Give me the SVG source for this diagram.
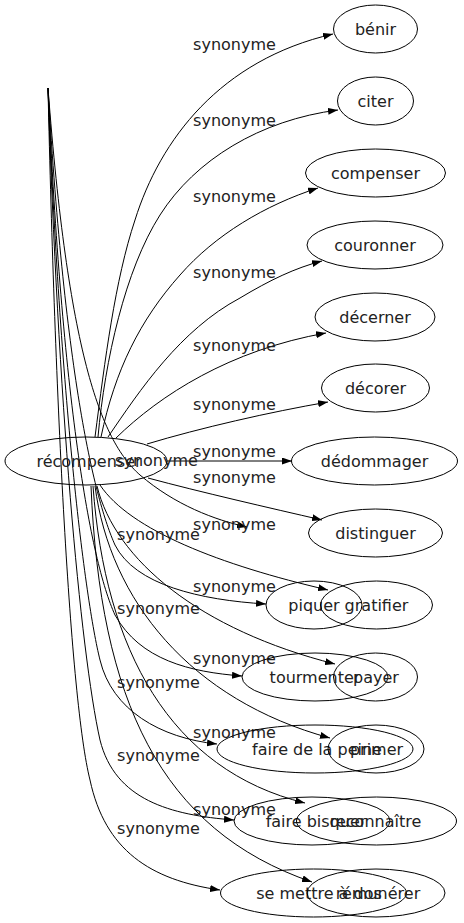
<svg xmlns="http://www.w3.org/2000/svg" width="464" height="923" viewBox="0 0 464 923">
<defs>
<marker id="ah" viewBox="0 0 10 7" refX="10" refY="3.5" markerWidth="10" markerHeight="7" markerUnits="userSpaceOnUse" orient="auto"><path d="M0,0 L10,3.5 L0,7 z" fill="#000"/></marker>
</defs>
<style>
.n ellipse{fill:none;stroke:#000;stroke-width:1}
text{font-family:"DejaVu Sans",Verdana,sans-serif;font-size:16px;fill:#222}
.n text{text-anchor:middle}
.e path{fill:none;stroke:#000;stroke-width:1;marker-end:url(#ah)}
.l text{text-anchor:middle}
</style>
<rect width="464" height="923" fill="#fff"/>
<g id="edges" class="e">
<path d="M95,437 C105,360 115,280 135,220 C160,140 220,60 333,34"/>
<path d="M98,437 C105,360 125,270 160,215 C195,160 260,120 338,110"/>
<path d="M101,437 C115,370 140,320 180,275 C215,235 265,205 318,188"/>
<path d="M108,437 C140,390 180,330 240,298 C270,280 295,268 322,261"/>
<path d="M116,438 C160,395 230,350 326,333"/>
<path d="M147,444 C200,428 270,412 328,402"/>
<path d="M167,461 L292,461"/>
<path d="M148,478 C200,492 270,508 322,520"/>
<path d="M48,88 C68,350 100,440 140,475 C175,505 215,520 247,527"/>
<path d="M100,485 C130,530 220,565 328,590"/>
<path d="M48,88 C65,380 95,500 115,545 C135,585 200,600 266,604"/>
<path d="M97,486 C115,560 200,630 335,664"/>
<path d="M48,88 C62,400 90,560 115,615 C140,660 190,672 242,676"/>
<path d="M95,486 C110,600 190,700 330,738"/>
<path d="M48,88 C60,400 85,600 100,660 C112,710 160,738 217,744"/>
<path d="M93,486 C105,650 170,770 305,803"/>
<path d="M48,88 C58,400 80,650 100,740 C115,800 170,815 234,820"/>
<path d="M91,486 C100,700 160,830 312,882"/>
<path d="M48,88 C55,400 70,700 90,780 C105,850 150,880 220,890"/>
</g>
<g id="labels" class="l">
<text x="234.5" y="50">synonyme</text>
<text x="234.5" y="126">synonyme</text>
<text x="234.5" y="202">synonyme</text>
<text x="234.5" y="278">synonyme</text>
<text x="234.5" y="351">synonyme</text>
<text x="234.5" y="410">synonyme</text>
<text x="234.5" y="457">synonyme</text>
<text x="234.5" y="483">synonyme</text>
<text x="234.5" y="530">synonyme</text>
<text x="158.5" y="540">synonyme</text>
<text x="156.5" y="466">synonyme</text>
<text x="234.5" y="592">synonyme</text>
<text x="158.5" y="614">synonyme</text>
<text x="234.5" y="664">synonyme</text>
<text x="158.5" y="688">synonyme</text>
<text x="234.5" y="738">synonyme</text>
<text x="158.5" y="761">synonyme</text>
<text x="234.5" y="815">synonyme</text>
<text x="158.5" y="834">synonyme</text>
</g>
<g id="n-recompenser" class="n"><ellipse cx="86" cy="461" rx="81" ry="24"/><text x="89" y="466.5">récompenser</text></g>
<g id="n-benir" class="n"><ellipse cx="375.5" cy="29" rx="42" ry="24"/><text x="375.5" y="34.5">bénir</text></g>
<g id="n-citer" class="n"><ellipse cx="375.5" cy="101" rx="38" ry="24"/><text x="375.5" y="106.5">citer</text></g>
<g id="n-compenser" class="n"><ellipse cx="375.5" cy="173" rx="70" ry="24"/><text x="375.5" y="178.5">compenser</text></g>
<g id="n-couronner" class="n"><ellipse cx="375" cy="245" rx="68" ry="24"/><text x="375" y="250.5">couronner</text></g>
<g id="n-decerner" class="n"><ellipse cx="375" cy="317" rx="60" ry="24"/><text x="375" y="322.5">décerner</text></g>
<g id="n-decorer" class="n"><ellipse cx="375.5" cy="388" rx="54" ry="24"/><text x="375.5" y="393.5">décorer</text></g>
<g id="n-dedommager" class="n"><ellipse cx="374.5" cy="461" rx="83" ry="24"/><text x="374.5" y="466.5">dédommager</text></g>
<g id="n-distinguer" class="n"><ellipse cx="375.5" cy="533" rx="67" ry="24"/><text x="375.5" y="538.5">distinguer</text></g>
<g id="n-piquer" class="n"><ellipse cx="314" cy="605" rx="48" ry="24"/><text x="314" y="610.5">piquer</text></g>
<g id="n-gratifier" class="n"><ellipse cx="376.5" cy="605" rx="56" ry="24"/><text x="376.5" y="610.5">gratifier</text></g>
<g id="n-tourmenter" class="n"><ellipse cx="315" cy="677" rx="73" ry="24"/><text x="315" y="682.5">tourmenter</text></g>
<g id="n-payer" class="n"><ellipse cx="375.5" cy="677" rx="42" ry="24"/><text x="376" y="682.5">payer</text></g>
<g id="n-faire-de-la-peine" class="n"><ellipse cx="315" cy="749" rx="98" ry="24"/><text x="317" y="754.5">faire de la peine</text></g>
<g id="n-primer" class="n"><ellipse cx="376" cy="749" rx="48" ry="24"/><text x="376.5" y="754.5">primer</text></g>
<g id="n-faire-bisquer" class="n"><ellipse cx="312" cy="821" rx="78" ry="24"/><text x="316" y="826.5">faire bisquer</text></g>
<g id="n-reconnaitre" class="n"><ellipse cx="376.5" cy="821" rx="80" ry="24"/><text x="375.5" y="826.5">reconnaître</text></g>
<g id="n-se-mettre-a-dos" class="n"><ellipse cx="313.5" cy="893" rx="93" ry="24"/><text x="319" y="898.5">se mettre à dos</text></g>
<g id="n-remunerer" class="n"><ellipse cx="376" cy="893" rx="69" ry="24"/><text x="378" y="898.5">rémunérer</text></g>
</svg>
